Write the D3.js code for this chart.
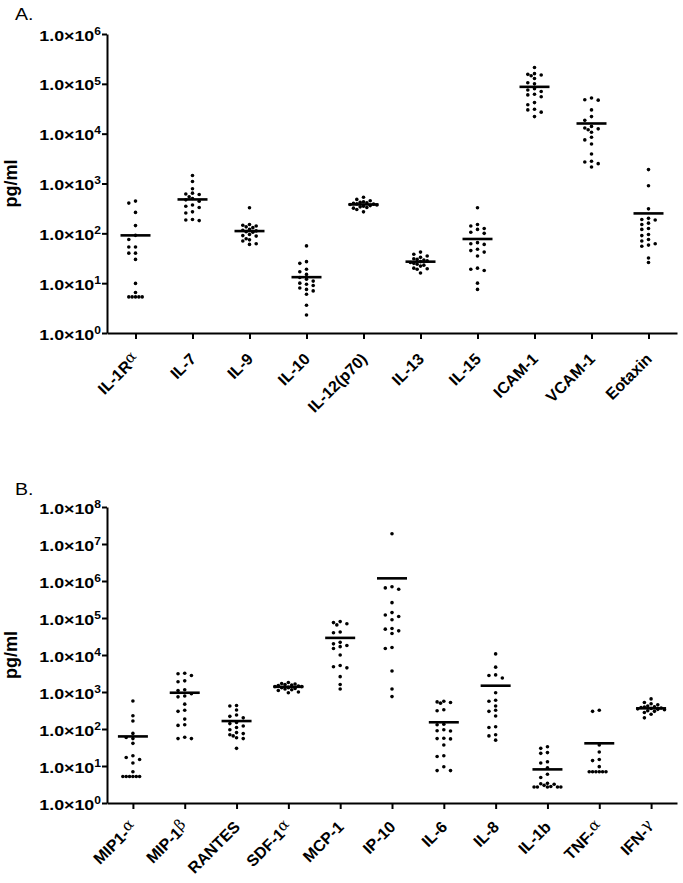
<!DOCTYPE html>
<html>
<head>
<meta charset="utf-8">
<script src="https://cdn.jsdelivr.net/npm/d3@7.9.0/dist/d3.min.js"></script>
<style>
  body { margin: 0; background: #fff; }
  text { font-family: "Liberation Sans", Arial, sans-serif; }
</style>
</head>
<body>
<div id="chart"></div>
<script>
// panel A
const catsA = ['IL-1Rα', 'IL-7', 'IL-9', 'IL-10', 'IL-12(p70)', 'IL-13', 'IL-15', 'ICAM-1', 'VCAM-1', 'Eotaxin'];
const valuesA = [
  [443, 404, 263, 143, 91, 75, 53, 53, 40, 40, 30, 9.9, 6.5, 5.3, 5.3, 5.3, 5.3, 5.3],
  [1445, 1096, 783, 640, 617, 600, 540, 500, 470, 440, 370, 350, 330, 270, 255, 190, 185, 180],
  [327, 150, 145, 140, 135, 130, 120, 115, 112, 108, 105, 95, 90, 88, 78, 74, 70, 62, 60],
  [56, 27, 25, 19, 17, 15, 13, 12, 11, 10, 9.5, 9, 8, 7.5, 7, 6, 3.6, 2.3],
  [530, 480, 450, 430, 420, 410, 400, 390, 385, 380, 370, 360, 350, 340, 330, 320, 300, 270],
  [42, 38, 35, 33, 31, 30, 29, 28, 27, 26, 25, 24, 23, 22, 20, 19.5, 19, 16],
  [327, 150, 140, 125, 120, 105, 100, 65, 62, 60, 48, 45, 42, 35, 20, 19, 18, 10, 7.5],
  [212000, 160000, 155000, 150000, 145000, 128000, 105000, 100000, 80000, 75000, 70000, 62000, 60000, 55000, 42000, 38000, 31000, 30000, 27000, 22000],
  [52000, 48000, 47000, 30000, 22000, 18500, 14000, 13000, 12500, 12000, 10700, 8500, 7500, 6200, 3900, 2800, 2700, 2500, 2150],
  [1900, 900, 310, 200, 190, 185, 160, 150, 125, 120, 95, 90, 75, 70, 62, 58, 55, 32, 26]
];
const meansA = [91, 479, 111, 13.2, 380, 27, 77, 87000, 16000, 251];
const expsA = [0, 1, 2, 3, 4, 5, 6];

// panel B
const catsB = ['MIP1-α', 'MIP-1β', 'RANTES', 'SDF-1α', 'MCP-1', 'IP-10', 'IL-6', 'IL-8', 'IL-1b', 'TNF-α', 'IFN-γ'];
const valuesB = [
  [571, 229, 164, 76, 59, 55, 41, 19, 17, 15, 12, 7, 5.2, 5.2, 5.2, 5.2, 5.2, 5.2],
  [3200, 3100, 2800, 2000, 1900, 1150, 1100, 900, 780, 740, 470, 320, 300, 185, 130, 125, 60, 55, 55],
  [430, 420, 325, 240, 220, 200, 150, 140, 120, 110, 95, 80, 75, 70, 65, 58, 55, 30],
  [1800, 1700, 1650, 1600, 1550, 1500, 1450, 1400, 1400, 1350, 1300, 1300, 1250, 1200, 1150, 1100, 1000, 950],
  [80000, 75000, 70000, 65000, 42000, 40000, 22000, 20000, 18000, 16800, 15000, 10000, 5200, 4800, 4500, 2600, 1600, 1200],
  [1.9e7, 7e5, 6.5e5, 6e5, 2.6e5, 1.4e5, 1.2e5, 1.1e5, 9e4, 5.2e4, 5e4, 4.5e4, 3.8e4, 1.6e4, 1.5e4, 3700, 1200, 750],
  [560, 540, 520, 500, 330, 310, 135, 130, 95, 90, 88, 56, 55, 54, 37, 19, 18, 9.5, 7.5, 7.5],
  [10700, 4700, 2900, 2800, 2400, 950, 600, 560, 420, 320, 300, 225, 115, 110, 70, 65, 50],
  [33, 30, 23, 22, 13, 12, 9, 6, 4.9, 3.4, 3.3, 3.2, 3.0, 2.8, 2.7, 2.7, 2.7, 2.7, 2.7],
  [320, 300, 37, 24, 15, 14, 9.6, 7, 7, 7, 7, 7, 7],
  [650, 520, 480, 450, 420, 400, 390, 380, 370, 360, 350, 340, 330, 310, 300, 280, 250, 200]
];
const meansB = [63, 955, 164, 1380, 29000, 1.18e6, 152, 1480, 8.1, 41, 362];
const expsB = [0, 1, 2, 3, 4, 5, 6, 7, 8];

const width = 683, height = 883;

const svg = d3.select('#chart').append('svg')
    .attr('width', width)
    .attr('height', height);

svg.append('rect').attr('width', width).attr('height', height).attr('fill', '#fff');

// place dots side by side so they don't overlap (like a column scatter)
function swarm(vals, y, step) {
    const placed = [];
    const slots = [0, -step, step, -step / 2, step / 2, -1.5 * step, 1.5 * step, -2 * step, 2 * step];
    return vals.slice().sort((a, b) => b - a).map(v => {
        const py = y(v);
        for (const dx of slots) {
            const hit = placed.some(p => Math.abs(p.dx - dx) < 3 && Math.abs(p.y - py) < 4.3);
            if (!hit) {
                placed.push({ dx, y: py });
                return { v, dx, y: py };
            }
        }
        placed.push({ dx: 0, y: py });
        return { v, dx: 0, y: py };
    });
}

function panel(opts) {
    const { cats, values, means, exps, top, bottom, letter, letterY, labelDy } = opts;
    const left = 107, right = 677;

    const x = d3.scalePoint().domain(cats).range([left, right]).padding(0.5);
    const y = d3.scaleLog().domain([1, 10 ** exps[exps.length - 1]]).range([bottom, top]);

    const g = svg.append('g');

    // panel letter
    g.append('text')
        .attr('transform', `translate(15, ${letterY}) scale(1.15,1)`)
        .attr('font-size', 17)
        .text(letter);

    // y axis
    const ya = g.append('g')
        .attr('transform', `translate(${left},0)`)
        .call(d3.axisLeft(y).tickValues(exps.map(e => 10 ** e)).tickSize(5).tickSizeOuter(0).tickFormat(''));
    ya.selectAll('.tick text').remove();
    ya.selectAll('.tick').each(function (d) {
        const t = d3.select(this).append('text')
            .attr('transform', `translate(-6,6) scale(1.15,1)`)
            .attr('text-anchor', 'end')
            .attr('font-weight', 'bold')
            .attr('font-size', 15.5)
            .attr('fill', '#000');
        t.append('tspan').text('1.0×10');
        t.append('tspan').attr('dy', -5.7).attr('font-size', 10.5).text(Math.round(Math.log10(d)));
    });

    // x axis
    const xa = g.append('g')
        .attr('transform', `translate(0,${bottom})`)
        .call(d3.axisBottom(x).tickSize(6).tickSizeOuter(0).tickFormat(''));
    xa.selectAll('.tick text').remove();
    xa.selectAll('.tick').each(function (d) {
        const t = d3.select(this).append('text')
            .attr('transform', `translate(4,${labelDy}) rotate(-45)`)
            .attr('text-anchor', 'end')
            .attr('font-weight', 'bold')
            .attr('font-size', 16)
            .attr('fill', '#000');
        const last = d.slice(-1);
        if ('αβγ'.includes(last)) {
            t.append('tspan').text(d.slice(0, -1));
            t.append('tspan')
                .attr('dy', -4)
                .attr('font-weight', 'normal')
                .attr('font-family', '"DejaVu Serif", serif')
                .attr('font-size', 15)
                .text(last);
        } else {
            t.text(d);
        }
    });

    g.selectAll('.domain, .tick line').attr('stroke', '#000').attr('stroke-width', 2);

    // y label
    g.append('text')
        .attr('transform', `translate(17, ${(top + bottom) / 2}) rotate(-90)`)
        .attr('text-anchor', 'middle')
        .attr('font-weight', 'bold')
        .attr('font-size', 18)
        .text('pg/ml');

    // dots
    cats.forEach((c, i) => {
        const cx = x(c);
        const pts = swarm(values[i], y, 6.7);
        g.append('g').selectAll('circle')
            .data(pts)
            .enter()
            .append('circle')
            .attr('cx', d => cx + d.dx)
            .attr('cy', d => d.y)
            .attr('r', 1.8)
            .attr('fill', '#000');

        g.append('line')
            .attr('x1', cx - 15)
            .attr('x2', cx + 15)
            .attr('y1', y(means[i]))
            .attr('y2', y(means[i]))
            .attr('stroke', '#000')
            .attr('stroke-width', 2.6);
    });
}

panel({ cats: catsA, values: valuesA, means: meansA, exps: expsA, top: 34, bottom: 333, letter: 'A.', letterY: 20, labelDy: 27 });
panel({ cats: catsB, values: valuesB, means: meansB, exps: expsB, top: 507, bottom: 803, letter: 'B.', letterY: 495, labelDy: 25 });
</script>
</body>
</html>
